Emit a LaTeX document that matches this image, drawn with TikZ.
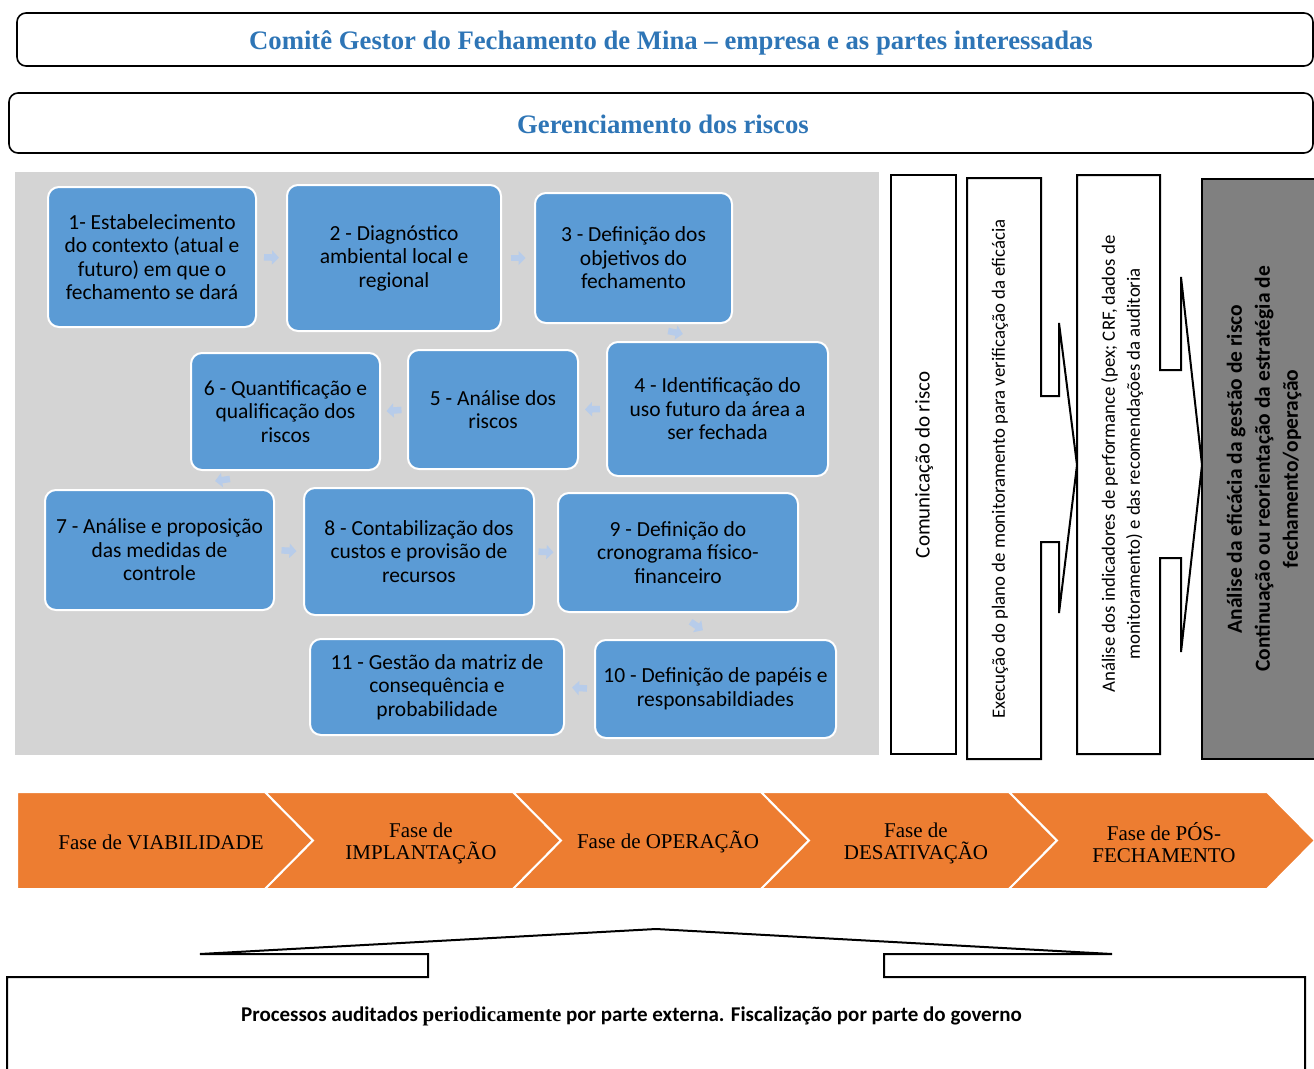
\documentclass[tikz,border=0pt]{standalone}
\usepackage{fontspec}
\setmainfont{Liberation Serif}
\newfontfamily\calibri{Carlito}
\usetikzlibrary{calc,arrows.meta}
\definecolor{boxblue}{HTML}{5B9BD5}
\definecolor{lightarr}{HTML}{B7CCEA}
\definecolor{panelgray}{HTML}{D4D4D4}
\definecolor{headblue}{HTML}{2E75B6}
\definecolor{phaseorange}{HTML}{ED7D31}
\definecolor{colgray}{HTML}{808080}
\tikzset{
  stepbox/.style={rectangle, rounded corners=11pt, fill=boxblue, draw=white, line width=2pt,
    align=center, inner sep=0pt, font=\calibri\fontsize{21.5}{23.5}\selectfont},
  flow/.style={draw=lightarr, line width=6.5pt, -{Triangle[length=7pt,width=14pt]}},
  headbox/.style={rectangle, draw=black, line width=1.6pt, rounded corners=9pt, inner sep=0pt},
  headtext/.style={text=headblue, font=\bfseries\fontsize{26.7}{30}\selectfont},
  colline/.style={draw=black, line width=2pt},
  phase/.style={fill=phaseorange, draw=white, line width=2pt},
  phasetext/.style={align=center, font=\fontsize{21}{22}\selectfont},
}
\newcommand\flowarrow[2]{\draw[flow] ($(#1)!0.5!(#2)!7.5pt!(#1)$) -- ($(#1)!0.5!(#2)!7.5pt!(#2)$);}
\begin{document}
\begin{tikzpicture}[x=1pt,y=-1pt]
\useasboundingbox (0,0) rectangle (1314,1068);
\fill[white] (0,0) rectangle (1314,1068);

% headers
\node[headbox, minimum width=1296pt, minimum height=53pt] (h1) at (665,39.5) {};
\node[headtext] (h1t) at (671,43) {Comitê Gestor do Fechamento de Mina – empresa e as partes interessadas};
\node[headbox, minimum width=1304pt, minimum height=60pt] (h2) at (661,123) {};
\node[headtext] (h2t) at (663,124) {Gerenciamento dos riscos};

% gray panel
\node[fill=panelgray, minimum width=864pt, minimum height=583pt, inner sep=0pt] (panel) at (447,463.5) {};

% step boxes
\node[stepbox, minimum width=208pt, minimum height=140pt] (b1) at (152,257) {1- Estabelecimento\\do contexto (atual e\\futuro) em que o\\fechamento se dará};
\node[stepbox, minimum width=214pt, minimum height=146pt] (b2) at (394,258) {2 - Diagnóstico\\ambiental local e\\regional};
\node[stepbox, minimum width=197pt, minimum height=130pt] (b3) at (633.5,258) {3 - Definição dos\\objetivos do\\fechamento};
\node[stepbox, minimum width=221pt, minimum height=134pt] (b4) at (717.5,409) {4 - Identificação do\\uso futuro da área a\\ser fechada};
\node[stepbox, minimum width=170pt, minimum height=119pt] (b5) at (493,409.5) {5 - Análise dos\\riscos};
\node[stepbox, minimum width=189pt, minimum height=117pt] (b6) at (285.5,411.5) {6 - Quantificação e\\qualificação dos\\riscos};
\node[stepbox, minimum width=229pt, minimum height=120pt] (b7) at (159.5,550) {7 - Análise e proposição\\das medidas de\\controle};
\node[stepbox, minimum width=230pt, minimum height=127pt] (b8) at (419,551.5) {8 - Contabilização dos\\custos e provisão de\\recursos};
\node[stepbox, minimum width=240pt, minimum height=119pt] (b9) at (678,552.5) {9 - Definição do\\cronograma físico-\\financeiro};
\node[stepbox, minimum width=241pt, minimum height=98pt] (b10) at (715.5,689) {10 - Definição de papéis e\\responsabildiades};
\node[stepbox, minimum width=254pt, minimum height=96pt] (b11) at (437,687) {11 - Gestão da matriz de\\consequência e\\probabilidade};

% flow arrows
\flowarrow{b1.east}{b2.west}
\flowarrow{b2.east}{b3.west}
\flowarrow{b3.south}{b4.north}
\flowarrow{b4.west}{b5.east}
\flowarrow{b5.west}{b6.east}
\flowarrow{b6.south}{b7.north}
\flowarrow{b7.east}{b8.west}
\flowarrow{b8.east}{b9.west}
\flowarrow{b9.south}{b10.north}
\flowarrow{b10.west}{b11.east}

% right columns
\node[colline, fill=white, minimum width=65pt, minimum height=579pt, inner sep=0pt] (c1) at (923.5,464.5) {};
\draw[colline, fill=white] (967,178) -- (1041,178) -- (1041,396) -- (1059,396) -- (1059,323) -- (1077,465)
  -- (1059,613) -- (1059,542) -- (1041,542) -- (1041,759) -- (967,759) -- cycle;
\draw[colline, fill=white] (1077,175) -- (1160,175) -- (1160,370) -- (1181,370) -- (1181,277) -- (1202,465)
  -- (1181,652) -- (1181,558) -- (1160,558) -- (1160,754) -- (1077,754) -- cycle;
\draw[colline, fill=colgray] (1202,179) rectangle (1325,759);

\node[rotate=90, font=\calibri\fontsize{21}{25}\selectfont] (c1t) at (924,465) {Comunicação do risco};
\node[rotate=90, font=\calibri\fontsize{18.8}{22}\selectfont] (c2t) at (1000,469) {Execução do plano de monitoramento para verificação da eficácia};
\node[rotate=90, align=center, font=\calibri\fontsize{18.8}{25}\selectfont] (c3t) at (1122,464) {Análise dos indicadores de performance (pex; CRF, dados de\\monitoramento) e das recomendações da auditoria};
\node[rotate=90, align=center, font=\calibri\bfseries\fontsize{21.5}{28}\selectfont] (c4t) at (1264,469) {Análise da eficácia da gestão de risco\\Continuação ou reorientação da estratégia de\\fechamento/operação};

% phases
\draw[phase] (17,792) -- (265,792) -- (313,840.5) -- (265,889) -- (17,889) -- cycle;
\draw[phase] (265,792) -- (513,792) -- (561,840.5) -- (513,889) -- (265,889) -- (313,840.5) -- cycle;
\draw[phase] (513,792) -- (761,792) -- (809,840.5) -- (761,889) -- (513,889) -- (561,840.5) -- cycle;
\draw[phase] (761,792) -- (1009,792) -- (1057,840.5) -- (1009,889) -- (761,889) -- (809,840.5) -- cycle;
\draw[phase] (1009,792) -- (1267,792) -- (1315,840.5) -- (1267,889) -- (1009,889) -- (1057,840.5) -- cycle;
\node[phasetext] (p1) at (161,842) {Fase de VIABILIDADE};
\node[phasetext] (p2) at (421,843) {Fase de\\IMPLANTAÇÃO};
\node[phasetext] (p3) at (668,842) {Fase de OPERAÇÃO};
\node[phasetext] (p4) at (916,843) {Fase de\\DESATIVAÇÃO};
\node[phasetext] (p5) at (1164,843) {Fase de PÓS-\\FECHAMENTO};

% bottom callout
\draw[colline] (7,1080) -- (7,977) -- (428,977) -- (428,954) -- (200,954) -- (656,929) -- (1112,954)
  -- (884,954) -- (884,977) -- (1305,977) -- (1305,1080);
\node[font=\calibri\bfseries\fontsize{21}{24}\selectfont] (bt) at (631.5,1016) {Processos auditados {\rmfamily\bfseries periodicamente} por parte externa. Fiscalização por parte do governo};
\end{tikzpicture}
\end{document}
